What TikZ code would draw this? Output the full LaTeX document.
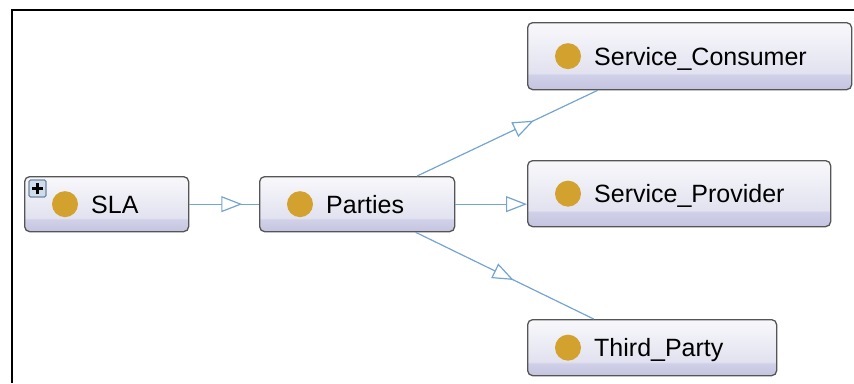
\documentclass[tikz,border=0pt]{standalone}
\usepackage{fontspec}
\setmainfont{Liberation Sans}
\usetikzlibrary{arrows.meta,decorations.markings}
\definecolor{cB}{HTML}{C4C4E0}
\definecolor{cM}{HTML}{D0D0E8}
\definecolor{cU}{HTML}{E2E2F0}
\definecolor{cT}{HTML}{F8F8FB}
\definecolor{edgeblue}{HTML}{74A5D2}
\definecolor{dotgold}{HTML}{D3A12E}
\definecolor{boxborder}{HTML}{555555}
\definecolor{plusfill}{HTML}{CFDCEA}
\definecolor{plusborder}{HTML}{6F87A2}
\pgfdeclareverticalshading{clsshade}{100bp}{color(0bp)=(cB); color(25bp)=(cB); color(36bp)=(cM); color(37.5bp)=(cU); color(75bp)=(cT); color(100bp)=(cT)}
\tikzset{tri/.tip={Triangle[fill=white, length=21pt, width=16pt]}}
\begin{document}
\begin{tikzpicture}[x=1pt,y=1pt,
  cls/.style={draw=boxborder, line width=1.3pt, rounded corners=5pt, shade, shading=clsshade, inner sep=0pt, anchor=north west},
  dot/.style={circle, fill=dotgold, minimum size=26pt, inner sep=0pt},
  lbl/.style={inner sep=0pt, anchor=base west, font=\fontsize{25}{30}\selectfont},
  edge/.style={draw=edgeblue, line width=1.2pt},
  markat/.style={postaction={decorate}, decoration={markings, mark=at position #1 with {\arrow{tri}}}}
]
\useasboundingbox (0,0) rectangle (854,-383);
\coordinate (fa) at (12,-383);
\coordinate (fb) at (12,-10);
\coordinate (fc) at (854,-10);
\draw[line width=2pt] (fa) -- (fb) -- (fc);

% boxes
\node[cls, minimum width=164pt, minimum height=55pt] (sla) at (24,-176) {};
\node[cls, minimum width=195pt, minimum height=55pt] (par) at (259,-176) {};
\node[cls, minimum width=324pt, minimum height=67pt] (sc) at (527,-22) {};
\node[cls, minimum width=303pt, minimum height=66pt] (sp) at (527,-160) {};
\node[cls, minimum width=249pt, minimum height=56pt] (tp) at (527,-319) {};

% icons and labels
\foreach \n/\t in {sla/SLA, par/Parties, sc/Service\_Consumer, sp/Service\_Provider, tp/Third\_Party}{
  \node[dot] (\n-dot) at ([xshift=41pt]\n.west) {};
  \node[lbl] (\n-lbl) at ([xshift=67pt,yshift=-9pt]\n.west) {\t};
}

% expand icon
\node[draw=plusborder, fill=plusfill, line width=1.4pt, minimum size=17pt, inner sep=0pt, rounded corners=1.5pt] (plus) at (37.5,-188.5) {};
\draw[line width=2.6pt] ([xshift=-5.5pt]plus.center) -- ([xshift=5.5pt]plus.center);
\draw[line width=2.6pt] ([yshift=-5.5pt]plus.center) -- ([yshift=5.5pt]plus.center);

% connectors
\draw[edge, markat=0.76] (sla.east) -- (par.west);
\draw[edge, markat=0.646] ([xshift=60pt]par.north) -- ([xshift=-92pt]sc.south);
\draw[edge, -{tri}] (par.east) -- (sp.west |- par.east);
\draw[edge, markat=0.55] ([xshift=58.5pt]par.south) -- ([xshift=-58.5pt]tp.north);
\end{tikzpicture}
\end{document}
